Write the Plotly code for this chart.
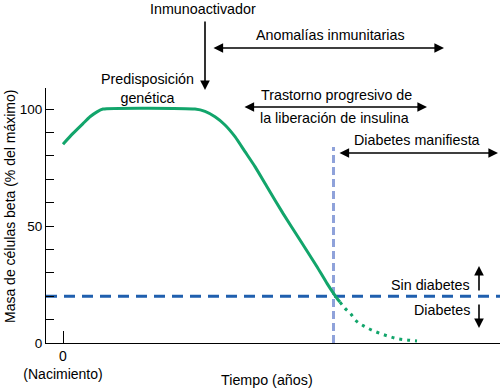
import plotly.graph_objects as go

# ---- data (time in arbitrary units, beta-cell mass in % of maximum) ----
time_solid = [0, 1.0, 2.0, 2.7, 3.4, 4.0, 13.2, 14.2, 15.2, 16.2, 17.2, 18.2, 19.2,
              20.4, 22.0, 23.7, 25.4, 26.4, 27.4, 27.7]
mass_solid = [85, 89.6, 93.8, 96.7, 98.8, 100, 100, 99, 96.7, 93.2, 88.2, 81.8, 75.4,
              66.8, 55.4, 44, 32.6, 25.5, 19.1, 17.5]
time_dotted = [27.7, 28.2, 28.7, 29.4, 30.2, 31.0, 31.9, 32.7, 33.5, 34.4, 35.4]
mass_dotted = [17.5, 14.8, 12.8, 9.1, 7.0, 5.3, 3.8, 2.7, 1.8, 1.3, 0.9]

threshold = 20          # diabetes threshold
onset_time = 27.05      # onset of overt diabetes
onset_top = 83.8
x_range = [-1.7, 43.7]
y_range = [0, 109]
y_ticks = [0, 10, 20, 30, 40, 50, 60, 70, 80, 90, 100]
y_labels = ["0", "", "", "", "", "50", "", "", "", "", "100"]
x_ticks = [0]
x_labels = ["0<br>(Nacimiento)"]

GREEN = "#12a56b"
DARKBLUE = "#1f5fae"
LIGHTBLUE = "#8fa2da"
FONT = "Liberation Sans, Arial, sans-serif"
TS = 14.3

# plot area in pixels (for placing annotation text in paper coordinates)
L, R, T, B = 46, 500, 88, 343
def px(x):
    return (x - L) / (R - L)
def py(y):
    return (B - y) / (B - T)

fig = go.Figure()
fig.add_trace(go.Scatter(x=x_range, y=[threshold, threshold], mode="lines",
                         line=dict(color=DARKBLUE, width=3, dash="11px,7px"),
                         hoverinfo="skip"))
fig.add_trace(go.Scatter(x=[onset_time, onset_time], y=[0, onset_top], mode="lines",
                         line=dict(color=LIGHTBLUE, width=3, dash="8px,4px"),
                         hoverinfo="skip"))
fig.add_trace(go.Scatter(x=time_solid, y=mass_solid, mode="lines",
                         line=dict(color=GREEN, width=3, shape="spline", smoothing=0.5)))
fig.add_trace(go.Scatter(x=time_dotted, y=mass_dotted, mode="lines",
                         line=dict(color=GREEN, width=3, shape="spline", dash="3px,5px")))

ann = []
def text(x, y, s, xanchor="center", size=TS, **kw):
    ann.append(dict(x=px(x), y=py(y), xref="paper", yref="paper", text=s, showarrow=False,
                    xanchor=xanchor, yanchor="middle",
                    font=dict(family=FONT, size=size, color="black"), **kw))

def arrow(x0, y0, x1, y1, both=False):
    # tail (x0,y0) -> head (x1,y1), pixel positions
    ann.append(dict(x=px(x1), y=py(y1), ax=x0 - x1, ay=y0 - y1, xref="paper", yref="paper",
                    axref="pixel", ayref="pixel",
                    text="", showarrow=True, arrowhead=2, arrowsize=1.2, arrowwidth=1.6,
                    arrowcolor="black", arrowside="end+start" if both else "end",
                    startarrowhead=2, startarrowsize=1.2, standoff=0, startstandoff=0))

text(203, 9, "Inmunoactivador")
arrow(205, 20, 205, 90)
text(330, 35, "Anomalías inmunitarias")
arrow(212, 48, 444, 48, both=True)
text(147, 88.5, "Predisposición<br>genética")
text(336, 95, "Trastorno progresivo de")
arrow(243, 107, 427, 107, both=True)
text(334, 118, "la liberación de insulina")
text(417, 140, "Diabetes manifiesta")
arrow(338, 153, 498, 153, both=True)
text(472, 285, "Sin diabetes", xanchor="right")
arrow(479, 292, 479, 266)
text(472, 310, "Diabetes", xanchor="right")
arrow(479, 303, 479, 328)
text(10, 207, "Masa de células beta (% del máximo)", size=14, textangle=-90)
text(267, 380, "Tiempo (años)")

fig.update_layout(
    width=500, height=388,
    margin=dict(l=L, r=500 - R, t=T, b=388 - B),
    paper_bgcolor="white", plot_bgcolor="white",
    showlegend=False,
    font=dict(family=FONT, size=13, color="black"),
    annotations=ann,
    xaxis=dict(range=x_range, showgrid=False, zeroline=False, showline=True,
               linecolor="black", linewidth=1.2, ticks="inside", ticklen=12,
               tickcolor="black", tickwidth=1.2, tickvals=x_ticks, ticktext=x_labels,
               tickfont=dict(family=FONT, size=14, color="black")),
    yaxis=dict(range=y_range, showgrid=False, zeroline=False, showline=True,
               linecolor="black", linewidth=1.2, ticks="inside", ticklen=8,
               tickcolor="black", tickwidth=1.2, tickvals=y_ticks, ticktext=y_labels,
               tickfont=dict(family=FONT, size=13.5, color="black")),
)
fig.write_html("out.html", config={"displayModeBar": False},
               post_script="document.body.style.margin='0';")
